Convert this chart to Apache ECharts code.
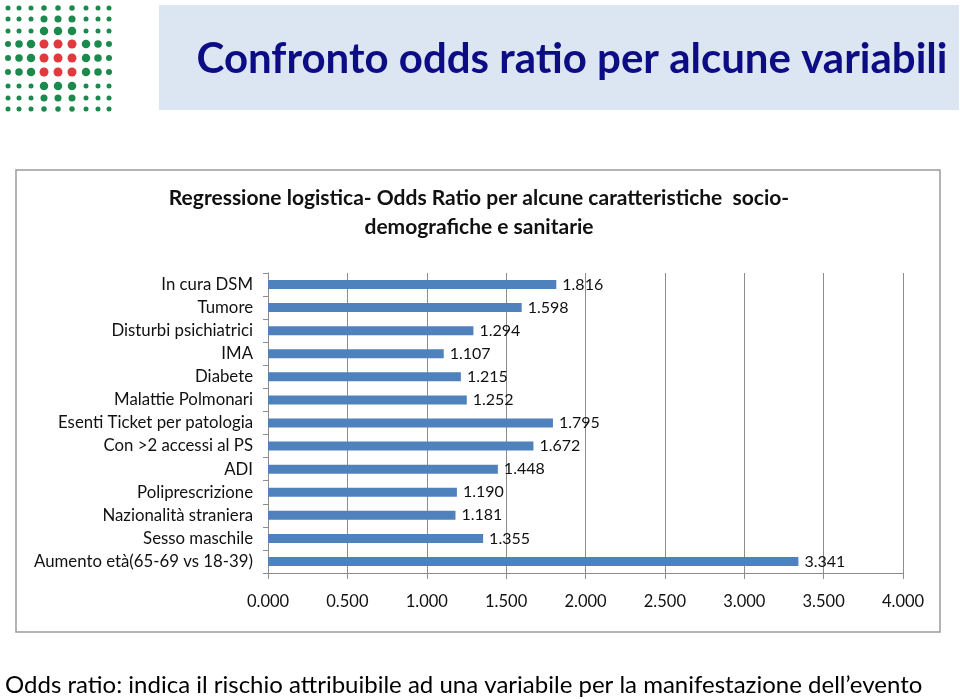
<!DOCTYPE html>
<html>
<head>
<meta charset="utf-8">
<script src="https://cdn.jsdelivr.net/npm/echarts@6/dist/echarts.min.js"></script>
<style>
  html, body { margin: 0; padding: 0; background: #fff; }
  #chart { width: 960px; height: 699px; }
</style>
</head>
<body>
<div id="chart"></div>
<script>
// categories from top to bottom
const categories = [
  'In cura DSM',
  'Tumore',
  'Disturbi psichiatrici',
  'IMA',
  'Diabete',
  'Malattie Polmonari',
  'Esenti Ticket per patologia',
  'Con >2 accessi al PS',
  'ADI',
  'Poliprescrizione',
  'Nazionalità straniera',
  'Sesso maschile',
  'Aumento età(65-69 vs 18-39)'
]
const oddsRatio = [1.816, 1.598, 1.294, 1.107, 1.215, 1.252, 1.795, 1.672, 1.448, 1.190, 1.181, 1.355, 3.341]
const xTicks = [0, 0.5, 1, 1.5, 2, 2.5, 3, 3.5, 4]

// logo dots: positions along each side and dot size per row/col ('r' = red)
const logoPos = [0, 11, 23, 36, 50, 64, 78, 90, 101]
const logoRows = [
  [5, 5, 5, 5.5, 5.5, 5.5, 5, 5, 5],
  [5, 5, 5, 7, 7, 7, 5, 5, 5],
  [5, 5, 5, 8.5, 8.5, 8.5, 5, 5, 5],
  [6, 7.5, 8.5, 'r', 'r', 'r', 8.5, 7.5, 6],
  [6, 7.5, 8.5, 'r', 'r', 'r', 8.5, 7.5, 6],
  [6, 7.5, 8.5, 'r', 'r', 'r', 8.5, 7.5, 6],
  [5, 5, 5, 8.5, 8.5, 8.5, 5, 5, 5],
  [5, 5, 5, 7, 7, 7, 5, 5, 5],
  [5, 5, 5, 5.5, 5.5, 5.5, 5, 5, 5]
]

const greenDots = []
const redDots = []
logoRows.forEach((row, r) => {
  row.forEach((s, c) => {
    if (s === 'r') redDots.push([logoPos[c], logoPos[r], 9])
    else greenDots.push([logoPos[c], logoPos[r], s])
  })
})

const font = 'Lato, "Open Sans", sans-serif'

const chart = echarts.init(document.getElementById('chart'))

const option = {
  animation: false,
  backgroundColor: '#fff',
  graphic: [
    {
      type: 'rect',
      shape: { x: 159, y: 5, width: 800, height: 105 },
      style: { fill: '#dce6f2' },
      z: -10
    },
    {
      type: 'rect',
      shape: { x: 16, y: 170, width: 924, height: 462 },
      style: { fill: 'none', stroke: '#9c9c9c', lineWidth: 1.5 },
      z: -10
    }
  ],
  title: [
    {
      text: 'Confronto odds ratio per alcune variabili',
      left: 567,
      top: 33,
      textAlign: 'center',
      textStyle: { fontFamily: font, fontSize: 42, fontWeight: 'bold', color: '#0c0c84' }
    },
    {
      text: 'Regressione logistica- Odds Ratio per alcune caratteristiche  socio-\ndemografiche e sanitarie',
      left: 474,
      top: 179,
      textAlign: 'center',
      textStyle: { fontFamily: font, fontSize: 21, fontWeight: 'bold', color: '#111', lineHeight: 29 }
    },
    {
      text: 'Odds ratio: indica il rischio attribuibile ad una variabile per la manifestazione dell\u2019evento',
      left: 0,
      top: 668,
      textStyle: { fontFamily: font, fontSize: 24, fontWeight: 'normal', color: '#000' }
    }
  ],
  grid: [
    { left: 268, top: 273, width: 635, height: 300 },
    { left: 8, top: 8, width: 101, height: 101 }
  ],
  xAxis: [
    {
      type: 'value',
      gridIndex: 0,
      min: 0,
      max: 4,
      interval: 0.5,
      axisLine: { show: true, lineStyle: { color: '#8c8c8c', width: 1 } },
      axisTick: { show: true, length: 6, lineStyle: { color: '#8c8c8c' } },
      axisLabel: {
        margin: 20,
        fontFamily: font,
        fontSize: 16.5,
        color: '#111',
        formatter: v => xTicks.includes(v) ? v.toFixed(3) : ''
      },
      splitLine: { show: true, lineStyle: { color: '#8c8c8c', width: 1 } }
    },
    {
      type: 'value',
      gridIndex: 1,
      min: 0,
      max: 101,
      show: false
    }
  ],
  yAxis: [
    {
      type: 'category',
      gridIndex: 0,
      data: categories,
      inverse: true,
      axisLine: { show: true, lineStyle: { color: '#8c8c8c', width: 1 } },
      axisTick: { show: true, length: 5, lineStyle: { color: '#8c8c8c' } },
      axisLabel: { margin: 15, fontFamily: font, fontSize: 16.8, color: '#111' },
      splitLine: { show: false }
    },
    {
      type: 'value',
      gridIndex: 1,
      min: 0,
      max: 101,
      inverse: true,
      show: false
    }
  ],
  series: [
    {
      name: 'Odds Ratio',
      type: 'bar',
      xAxisIndex: 0,
      yAxisIndex: 0,
      data: oddsRatio,
      barWidth: 9,
      itemStyle: { color: '#4f81bd' },
      label: {
        show: true,
        position: 'right',
        distance: 6,
        fontFamily: font,
        fontSize: 16,
        color: '#111',
        formatter: p => p.value.toFixed(3)
      }
    },
    {
      type: 'scatter',
      xAxisIndex: 1,
      yAxisIndex: 1,
      data: greenDots,
      symbolSize: d => d[2],
      itemStyle: { color: '#1b8a4c', opacity: 1 },
      silent: true
    },
    {
      type: 'scatter',
      xAxisIndex: 1,
      yAxisIndex: 1,
      data: redDots,
      symbolSize: d => d[2],
      itemStyle: { color: '#e0393e', opacity: 1 },
      silent: true
    }
  ]
}

chart.setOption(option)
</script>
</body>
</html>
